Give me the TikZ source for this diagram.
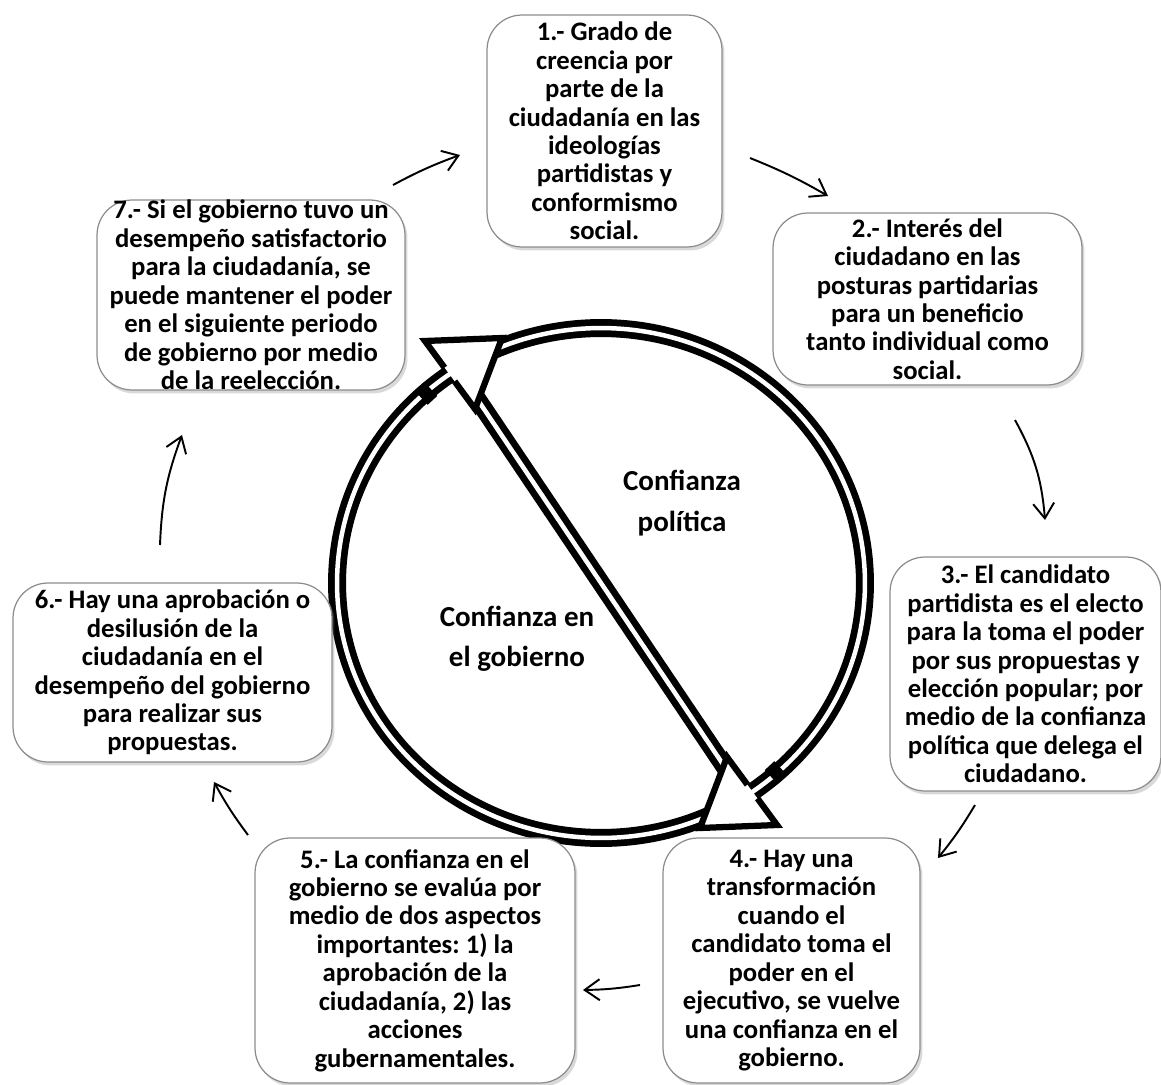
\documentclass[tikz,border=0pt]{standalone}
\usepackage{fontspec}
\setmainfont{Carlito}
\usetikzlibrary{arrows.meta,shadows}
\frenchspacing

\tikzset{
  caja/.style={draw=black!45, line width=0.7pt, rounded corners=0.7cm, fill=white,
    align=center, inner sep=0pt, font=\fontsize{15.2}{16.2}\selectfont\bfseries,
    drop shadow={shadow xshift=0.05cm, shadow yshift=-0.07cm, opacity=0.3}},
  banda/.style={line width=0.135cm, double=white, double distance=0.09cm},
  punta/.style={line width=0.125cm, line join=miter},
  cuadro/.style={fill=black, inner sep=0pt, minimum width=0.38cm, minimum height=0.26cm},
  centro/.style={align=center, font=\fontsize{16.5}{23}\selectfont\bfseries},
  flecha/.style={line width=1.1pt, -{Straight Barb[length=0.3cm,width=0.42cm]}}
}

\begin{document}
\begin{tikzpicture}[x=0.02cm,y=-0.02cm]
  %%%%% START %%%%%
  \useasboundingbox (0,0) rectangle (1161,1085);

  % anillo y eje
  \coordinate (O) at (601,583);
  \draw[banda] (O) ellipse [x radius=5.28cm, y radius=5.1cm];
  \coordinate (e1) at (467.4,384.4);
  \coordinate (e2) at (734.6,781.6);
  \draw[banda] (e1) -- (e2);

  % puntas
  \coordinate (hA) at (425,341);
  \coordinate (hB) at (502,338);
  \coordinate (hC) at (475,409);
  \coordinate (hN) at (444.5,367.6);
  \coordinate (hD) at (454.6,381.3);
  \coordinate (kA) at (777,825);
  \coordinate (kB) at (700,828);
  \coordinate (kC) at (727,757);
  \coordinate (kN) at (757.5,798.4);
  \coordinate (kD) at (747.4,784.7);
  \fill[white] (hA) -- (hB) -- (hC) -- cycle;
  \fill[white] (kA) -- (kB) -- (kC) -- cycle;
  \draw[punta] (hN) -- (hA) -- (hB) -- (hC) -- (hD);
  \draw[punta] (kN) -- (kA) -- (kB) -- (kC) -- (kD);
  \node[cuadro, rotate=132.7] (sqA) at (426,393.4) {};
  \node[cuadro, rotate=132.7] (sqB) at (776,772.6) {};

  \node[centro] (cpol) at (682,503) {Confianza\\política};
  \node[centro] (cgob) at (517,639) {Confianza en\\el gobierno};

  % cajas
  \node[caja, minimum width=4.7cm, minimum height=4.64cm] (b1) at (604.5,131)
    {1.- Grado de\\creencia por\\parte de la\\ciudadanía en las\\ideologías\\partidistas y\\conformismo\\social.};
  \node[caja, minimum width=6.18cm, minimum height=3.44cm] (b2) at (927.5,299)
    {2.- Interés del\\ciudadano en las\\posturas partidarias\\para un beneficio\\tanto individual como\\social.};
  \node[caja, minimum width=5.42cm, minimum height=4.68cm] (b3) at (1025.5,674)
    {3.- El candidato\\partidista es el electo\\para la toma el poder\\por sus propuestas y\\elección popular; por\\medio de la confianza\\política que delega el\\ciudadano.};
  \node[caja, minimum width=5.14cm, minimum height=4.9cm] (b4) at (791.5,960.5)
    {4.- Hay una\\transformación\\cuando el\\candidato toma el\\poder en el\\ejecutivo, se vuelve\\una confianza en el\\gobierno.};
  \node[caja, minimum width=6.4cm, minimum height=4.9cm] (b5) at (415,960.5)
    {5.- La confianza en el\\gobierno se evalúa por\\medio de dos aspectos\\importantes: 1) la\\aprobación de la\\ciudadanía, 2) las\\acciones\\gubernamentales.};
  \node[caja, minimum width=6.38cm, minimum height=3.58cm] (b6) at (172.5,672.5)
    {6.- Hay una aprobación o\\desilusión de la\\ciudadanía en el\\desempeño del gobierno\\para realizar sus\\propuestas.};
  \node[caja, minimum width=6.16cm, minimum height=3.8cm] (b7) at (251,295)
    {7.- Si el gobierno tuvo un\\desempeño satisfactorio\\para la ciudadanía, se\\puede mantener el poder\\en el siguiente periodo\\de gobierno por medio\\de la reelección.};

  % flechas del ciclo
  \coordinate (f1a) at (393,185);  \coordinate (f1b) at (460,155);
  \coordinate (f2a) at (750,158);  \coordinate (f2b) at (828,196);
  \coordinate (f3a) at (1015,420); \coordinate (f3b) at (1045,520);
  \coordinate (f4a) at (975,805);  \coordinate (f4b) at (938,858);
  \coordinate (f5a) at (640,985);  \coordinate (f5b) at (583,990);
  \coordinate (f6a) at (248,835);  \coordinate (f6b) at (214,782);
  \coordinate (f7a) at (160,545);  \coordinate (f7b) at (182,435);
  \draw[flecha] (f1a) to[bend left=4] (f1b);
  \draw[flecha] (f2a) to[bend left=4] (f2b);
  \draw[flecha] (f3a) to[bend left=12] (f3b);
  \draw[flecha] (f4a) to[bend left=4] (f4b);
  \draw[flecha] (f5a) to[bend left=4] (f5b);
  \draw[flecha] (f6a) to[bend left=4] (f6b);
  \draw[flecha] (f7a) to[bend left=9] (f7b);
  %%%%% START %%%%%
\end{tikzpicture}
\end{document}
